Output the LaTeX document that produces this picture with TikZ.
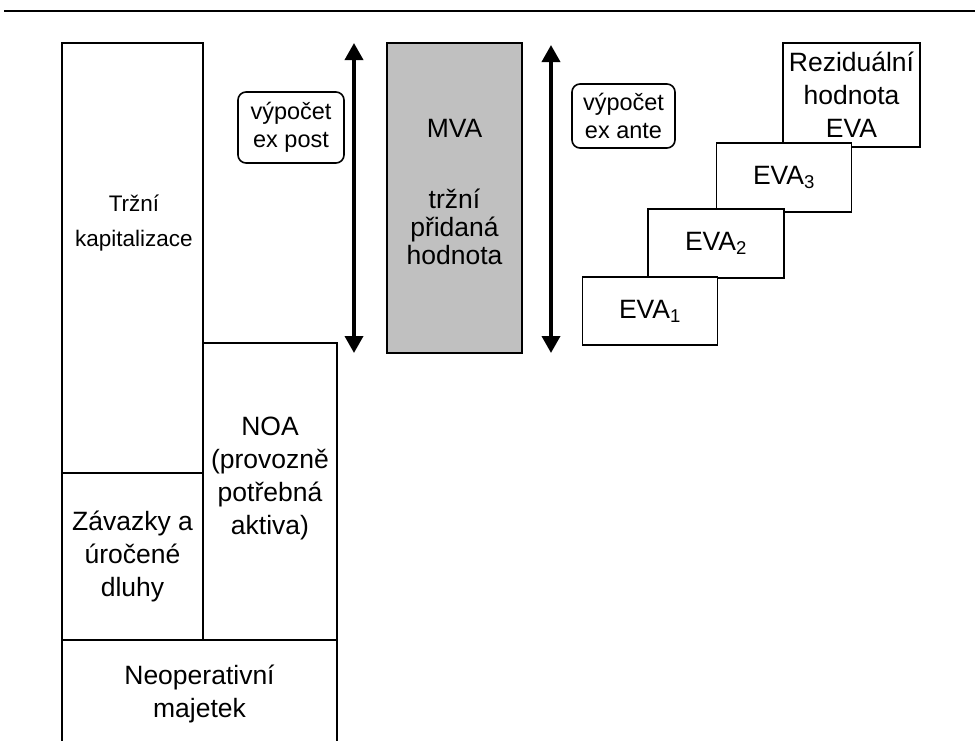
\documentclass[tikz,border=0pt]{standalone}
\usepackage{fontspec}
\setmainfont{Liberation Sans}
\usetikzlibrary{arrows.meta}
\definecolor{mvagray}{HTML}{C0C0C0}
\begin{document}
\begin{tikzpicture}[x=1pt,y=-1pt,
  box/.style={draw, line width=1.6pt, fill=white, inner sep=0pt, align=center,
    font=\fontsize{26.5}{33}\selectfont},
  rbox/.style={draw, line width=1.6pt, fill=white, inner sep=0pt, rounded corners=8pt,
    align=center, font=\fontsize{23.5}{28}\selectfont},
  txt/.style={inner sep=0pt, align=center, font=\fontsize{26.5}{33}\selectfont},
  dblarrow/.style={line width=3.6pt, {Triangle[length=17pt 0,width=18pt 0]}-{Triangle[length=17pt 0,width=18pt 0]}},
  rule/.style={line width=2.5pt}
]
\path[use as bounding box] (0,0) rectangle (975,740);
\clip (0,0) rectangle (975,740);

% top rule
\coordinate (rl) at (4,11);
\coordinate (rr) at (975,11);
\draw[rule] (rl) -- (rr);

% left column
\node[box, minimum width=141pt, minimum height=430pt] (cap) at (132.5,258) {};
\node[txt, font=\fontsize{22.5}{35}\selectfont] (captxt) at (134,223) {Tržní\\kapitalizace};
\node[box, minimum width=141pt, minimum height=167pt] (debt) at (132.5,556.5)
  {Závazky a\\úročené\\dluhy};
\node[box, minimum width=134pt, minimum height=297pt] (noa) at (270,491.5) {};
\node[txt] (noatxt) at (270,478) {NOA\\(provozně\\potřebná\\aktiva)};
\node[box, minimum width=275pt, minimum height=120pt] (nonop) at (199.5,700) {};
\node[txt] (nonoptxt) at (199.5,694) {Neoperativní\\majetek};

% ex post
\node[rbox, minimum width=106pt, minimum height=71pt] (post) at (291,127.5) {výpočet\\ex post};
\coordinate (a1t) at (354,43);
\coordinate (a1b) at (354,353);
\draw[dblarrow] (a1t) -- (a1b);

% MVA
\node[box, fill=mvagray, minimum width=135pt, minimum height=310pt] (mva) at (454.5,198) {};
\node[txt] (mvatxt) at (454.5,128) {MVA};
\node[txt, font=\fontsize{26.5}{28}\selectfont] (mvatxt2) at (454.5,227) {tržní\\přidaná\\hodnota};

\coordinate (a2t) at (551,45);
\coordinate (a2b) at (551,353);
\draw[dblarrow] (a2t) -- (a2b);

% ex ante
\node[rbox, minimum width=103pt, minimum height=64pt] (ante) at (623.5,116) {výpočet\\ex ante};

% EVA staircase
\node[box, minimum width=137pt, minimum height=104pt] (res) at (851.5,95) {Reziduální\\hodnota\\EVA};
\node[box, minimum width=135pt, minimum height=69pt] (eva3) at (784,177.5) {EVA\textsubscript{3}};
\node[box, minimum width=136pt, minimum height=69pt] (eva2) at (716,243.5) {EVA\textsubscript{2}};
\node[box, minimum width=135pt, minimum height=68pt] (eva1) at (650,311) {EVA\textsubscript{1}};
\end{tikzpicture}
\end{document}
